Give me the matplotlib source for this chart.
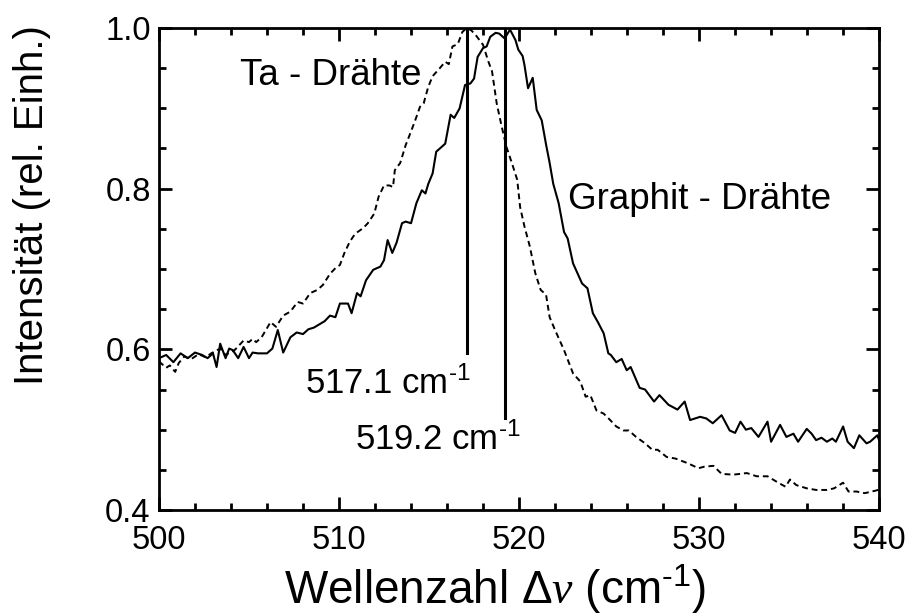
import numpy as np
import matplotlib
matplotlib.use("Agg")
import matplotlib.pyplot as plt

plt.rcParams['font.family'] = ['Liberation Sans', 'DejaVu Sans']
plt.rcParams['mathtext.fontset'] = 'custom'
plt.rcParams['mathtext.rm'] = 'Liberation Sans'
plt.rcParams['mathtext.it'] = 'Liberation Serif:italic'
plt.rcParams['mathtext.default'] = 'regular'

# Graphit - Drähte (solid)
graphit_x = [500.0, 500.4, 500.8, 501.2, 501.6, 502.0, 502.4, 502.7, 503.0, 503.2,
             503.4, 503.7, 503.9, 504.1, 504.4, 504.7, 505.0, 505.2, 505.5, 506.0,
             506.3, 506.6, 506.9, 507.3, 507.65, 508.0, 508.3, 508.6, 508.9, 509.2,
             509.5, 509.8, 510.05, 510.5, 510.7, 511.0, 511.2, 511.5, 511.9, 512.3,
             512.5, 512.7, 512.96, 513.2, 513.5, 513.7, 514.0, 514.3, 514.6, 514.8,
             514.96, 515.2, 515.4, 515.6, 515.9, 516.2, 516.4, 516.7, 517.0, 517.3,
             517.5, 517.7, 518.0, 518.2, 518.4, 518.7, 518.9, 519.2, 519.5, 519.8,
             519.96, 520.2, 520.3, 520.5, 520.76, 520.98, 521.26, 521.5, 521.7, 521.9,
             522.2, 522.5, 522.7, 523.0, 523.5, 523.8, 524.1, 524.4, 524.7, 524.96,
             525.1, 525.4, 525.7, 525.98, 526.2, 526.7, 527.0, 527.5, 527.8, 528.3,
             528.8, 529.2, 529.5, 530.06, 530.4, 530.76, 531.25, 531.7, 532.0, 532.3,
             532.6, 532.9, 533.3, 533.8, 534.0, 534.5, 534.85, 535.24, 535.5, 535.98,
             536.25, 536.5, 536.8, 537.1, 537.4, 537.6, 538.0, 538.25, 538.6, 538.9,
             539.3, 539.5, 539.9, 540.0]
graphit_y = [0.589, 0.593, 0.584, 0.595, 0.589, 0.596, 0.593, 0.589, 0.595, 0.578,
             0.607, 0.589, 0.601, 0.599, 0.589, 0.603, 0.589, 0.596, 0.595, 0.595,
             0.601, 0.624, 0.596, 0.615, 0.621, 0.619, 0.625, 0.627, 0.631, 0.635,
             0.642, 0.640, 0.657, 0.657, 0.645, 0.670, 0.666, 0.686, 0.699, 0.703,
             0.711, 0.736, 0.720, 0.733, 0.757, 0.759, 0.757, 0.782, 0.798, 0.794,
             0.806, 0.819, 0.846, 0.850, 0.856, 0.892, 0.888, 0.900, 0.929, 0.931,
             0.937, 0.964, 0.975, 0.977, 0.989, 0.994, 0.993, 0.987, 0.998, 0.985,
             0.973, 0.965, 0.954, 0.925, 0.938, 0.898, 0.885, 0.855, 0.832, 0.806,
             0.782, 0.746, 0.738, 0.707, 0.682, 0.676, 0.645, 0.633, 0.620, 0.595,
             0.593, 0.584, 0.588, 0.574, 0.578, 0.552, 0.550, 0.535, 0.543, 0.531,
             0.525, 0.535, 0.512, 0.516, 0.514, 0.508, 0.518, 0.499, 0.496, 0.510,
             0.500, 0.502, 0.491, 0.510, 0.485, 0.506, 0.491, 0.495, 0.485, 0.501,
             0.495, 0.487, 0.490, 0.485, 0.489, 0.485, 0.504, 0.485, 0.477, 0.493,
             0.483, 0.485, 0.493, 0.487]

# Ta - Drähte (dashed)
ta_x = [500.0, 500.4, 500.6, 500.9, 501.1, 501.4, 501.8, 502.2, 502.6, 502.9,
        503.4, 503.7, 504.2, 504.7, 505.0, 505.2, 505.4, 505.7, 506.2, 506.5,
        506.9, 507.3, 507.7, 508.0, 508.4, 508.8, 509.1, 509.5, 509.8, 510.05,
        510.3, 510.6, 510.9, 511.35, 511.6, 511.96, 512.2, 512.5, 512.8, 513.0,
        513.1, 513.4, 513.7, 513.96, 514.2, 514.5, 514.7, 514.96, 515.2, 515.6,
        515.9, 516.1, 516.3, 516.6, 516.85, 517.1, 517.35, 517.6, 518.0, 518.3,
        518.5, 518.76, 519.04, 519.3, 519.6, 519.9, 520.06, 520.3, 520.6, 520.9,
        521.2, 521.5, 521.7, 522.0, 522.5, 523.0, 523.4, 523.7, 523.96, 524.3,
        524.7, 525.06, 525.4, 525.8, 526.1, 526.5, 527.0, 527.4, 527.7, 528.2,
        528.7, 529.4, 529.96, 530.3, 530.8, 531.25, 531.9, 532.65, 533.2, 533.8,
        534.1, 534.4, 534.8, 535.05, 535.4, 535.98, 536.5, 537.1, 537.5, 538.0,
        538.3, 538.75, 539.2, 539.6, 539.95]
ta_y = [0.585, 0.577, 0.580, 0.572, 0.583, 0.591, 0.588, 0.594, 0.590, 0.595,
        0.601, 0.593, 0.599, 0.611, 0.609, 0.613, 0.609, 0.615, 0.634, 0.628,
        0.642, 0.647, 0.659, 0.657, 0.670, 0.674, 0.680, 0.694, 0.701, 0.705,
        0.720, 0.734, 0.744, 0.751, 0.757, 0.769, 0.790, 0.804, 0.804, 0.802,
        0.823, 0.832, 0.854, 0.869, 0.883, 0.902, 0.906, 0.927, 0.940, 0.950,
        0.958, 0.955, 0.977, 0.980, 0.995, 1.000, 0.997, 0.991, 0.979, 0.958,
        0.946, 0.906, 0.877, 0.852, 0.832, 0.811, 0.777, 0.753, 0.728, 0.695,
        0.674, 0.668, 0.640, 0.624, 0.599, 0.570, 0.560, 0.541, 0.543, 0.524,
        0.520, 0.512, 0.504, 0.499, 0.499, 0.491, 0.483, 0.475, 0.475, 0.466,
        0.464, 0.458, 0.452, 0.454, 0.455, 0.445, 0.444, 0.446, 0.442, 0.442,
        0.438, 0.434, 0.429, 0.438, 0.431, 0.427, 0.425, 0.425, 0.427, 0.434,
        0.423, 0.423, 0.421, 0.423, 0.425]

# peak markers
peak_pos = [517.1, 519.2]
peak_line_bottom = [0.595, 0.514]

fig = plt.figure(figsize=(9.11, 6.15), dpi=100)
ax = fig.add_axes([0.1745, 0.1707, 0.7905, 0.7838])

ax.plot(ta_x, ta_y, color='black', lw=1.4, linestyle=(0, (3, 2)))
ax.plot(graphit_x, graphit_y, color='black', lw=1.5)

for p, b in zip(peak_pos, peak_line_bottom):
    ax.plot([p, p], [b, 1.0], color='black', lw=2.2)

ax.text(504.5, 0.941, 'Ta - Drähte', fontsize=26.5, ha='left', va='center')
ax.text(522.7, 0.786, 'Graphit - Drähte', fontsize=26.5, ha='left', va='center')
ax.text(508.1, 0.558, r'%.1f cm$^{\text{-1}}$' % peak_pos[0], fontsize=25,
        ha='left', va='center')
ax.text(510.9, 0.488, r'%.1f cm$^{\text{-1}}$' % peak_pos[1], fontsize=25,
        ha='left', va='center')

ax.set_xlim(500, 540)
ax.set_ylim(0.4, 1.0)
ax.set_xticks([500, 510, 520, 530, 540])
ax.set_xticks(np.arange(500, 541, 2), minor=True)
ax.set_yticks([0.4, 0.6, 0.8, 1.0])
ax.set_yticks(np.arange(0.4, 1.001, 0.05), minor=True)
ax.set_yticklabels(['0.4', '0.6', '0.8', '1.0'])

ax.tick_params(which='both', direction='in', top=True, right=True, width=2)
ax.tick_params(which='major', length=9.5, labelsize=23.5)
ax.tick_params(which='minor', length=5)
ax.tick_params(axis='x', which='major', pad=11)
ax.tick_params(axis='y', which='major', pad=6)
for s in ax.spines.values():
    s.set_linewidth(2)

ax.set_xlabel(r'Wellenzahl $\mathit{\Delta\nu}$ (cm$^{\text{-1}}$)', fontsize=33)
ax.xaxis.label.set_va('baseline')
ax.xaxis.set_label_coords(0.467, -0.195)
ax.set_ylabel('Intensität (rel. Einh.)', fontsize=29)
ax.yaxis.label.set_va('center')
ax.yaxis.set_label_coords(-0.176, 0.633)

plt.savefig('out.png', dpi=100)
